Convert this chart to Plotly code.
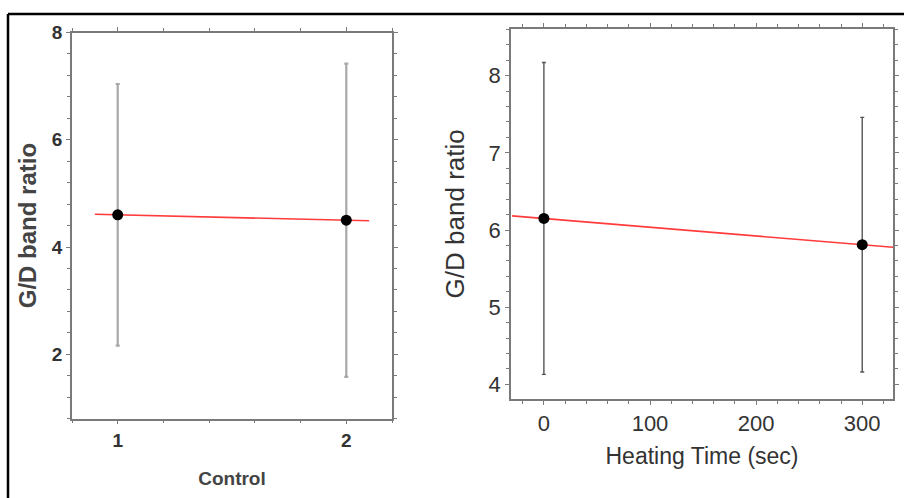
import plotly.graph_objects as go

# Control group: sample index vs G/D band ratio
ctrl_x = [1, 2]
ctrl_mean = [4.6, 4.5]
ctrl_err = [2.44, 2.92]
ctrl_fit_x = [0.9, 2.1]
ctrl_fit_y = [4.61, 4.49]

# Heated samples: heating time vs G/D band ratio
heat_x = [0, 300]
heat_mean = [6.15, 5.81]
heat_err = [2.02, 1.65]
heat_fit_x = [-30, 330]
heat_fit_y = [6.184, 5.776]

W, H = 904, 498
AX = "#7a7a7a"
FONT_L = "Liberation Sans"

fig = go.Figure()

# left panel
fig.add_trace(go.Scatter(
    x=ctrl_fit_x, y=ctrl_fit_y, mode="lines",
    line=dict(color="#ff3b3b", width=1.6), xaxis="x", yaxis="y", showlegend=False))
fig.add_trace(go.Scatter(
    x=ctrl_x, y=ctrl_mean, mode="markers",
    marker=dict(color="black", size=11),
    error_y=dict(type="data", array=ctrl_err, color="#a8a8a8", thickness=2.2, width=2),
    xaxis="x", yaxis="y", showlegend=False))

# right panel
fig.add_trace(go.Scatter(
    x=heat_fit_x, y=heat_fit_y, mode="lines",
    line=dict(color="#ff3b3b", width=1.6), xaxis="x2", yaxis="y2", showlegend=False))
fig.add_trace(go.Scatter(
    x=heat_x, y=heat_mean, mode="markers",
    marker=dict(color="black", size=11),
    error_y=dict(type="data", array=heat_err, color="#555555", thickness=1.4, width=2),
    xaxis="x2", yaxis="y2", showlegend=False))

common = dict(showline=True, linecolor=AX, linewidth=1.5, mirror="allticks",
              ticks="outside", ticklen=4, tickcolor=AX, tickwidth=1,
              showgrid=False, zeroline=False)

fig.update_layout(
    width=W, height=H,
    margin=dict(l=0, r=0, t=0, b=0),
    paper_bgcolor="white", plot_bgcolor="white",
    xaxis=dict(domain=[72 / W, 392 / W], range=[0.8, 2.2], anchor="y",
               tickvals=[1, 2], minor=dict(dtick=0.2, tick0=0, ticklen=3, tickcolor=AX, ticks="outside"),
               tickfont=dict(family=FONT_L, size=19, color="#333", weight="bold"),
               title=dict(text="<b>Control</b>", font=dict(family=FONT_L, size=19, color="#444"), standoff=22),
               **common),
    yaxis=dict(domain=[(H - 417) / H, (H - 23) / H], range=[0.8, 8], anchor="x",
               tickvals=[2, 4, 6, 8], minor=dict(dtick=0.4, tick0=0, ticklen=3, tickcolor=AX, ticks="outside"),
               tickfont=dict(family=FONT_L, size=19, color="#333", weight="bold"),
               title=dict(text="<b>G/D band ratio</b>", font=dict(family=FONT_L, size=24, color="#444"), standoff=8),
               **common),
    xaxis2=dict(domain=[511 / W, 893 / W], range=[-31, 329], anchor="y2",
                tickvals=[0, 100, 200, 300], minor=dict(dtick=20, tick0=0, ticklen=3, tickcolor=AX, ticks="outside"),
                tickfont=dict(family=FONT_L, size=22, color="#333"),
                title=dict(text="Heating Time (sec)", font=dict(family=FONT_L, size=23, color="#333"), standoff=13),
                **common),
    yaxis2=dict(domain=[(H - 397) / H, (H - 19) / H], range=[3.81, 8.61], anchor="x2",
                tickvals=[4, 5, 6, 7, 8], minor=dict(dtick=0.2, tick0=0, ticklen=3, tickcolor=AX, ticks="outside"),
                tickfont=dict(family=FONT_L, size=22, color="#333"),
                title=dict(text="G/D band ratio", font=dict(family=FONT_L, size=26, color="#333"), standoff=16),
                **common),
    shapes=[
        dict(type="line", xref="paper", yref="paper", x0=8 / W, x1=1, y0=(H - 4) / H, y1=(H - 4) / H,
             line=dict(color="black", width=2.5)),
        dict(type="line", xref="paper", yref="paper", x0=8 / W, x1=8 / W, y0=0, y1=(H - 4) / H,
             line=dict(color="black", width=2.5)),
    ],
)

fig.write_html("out.html")
